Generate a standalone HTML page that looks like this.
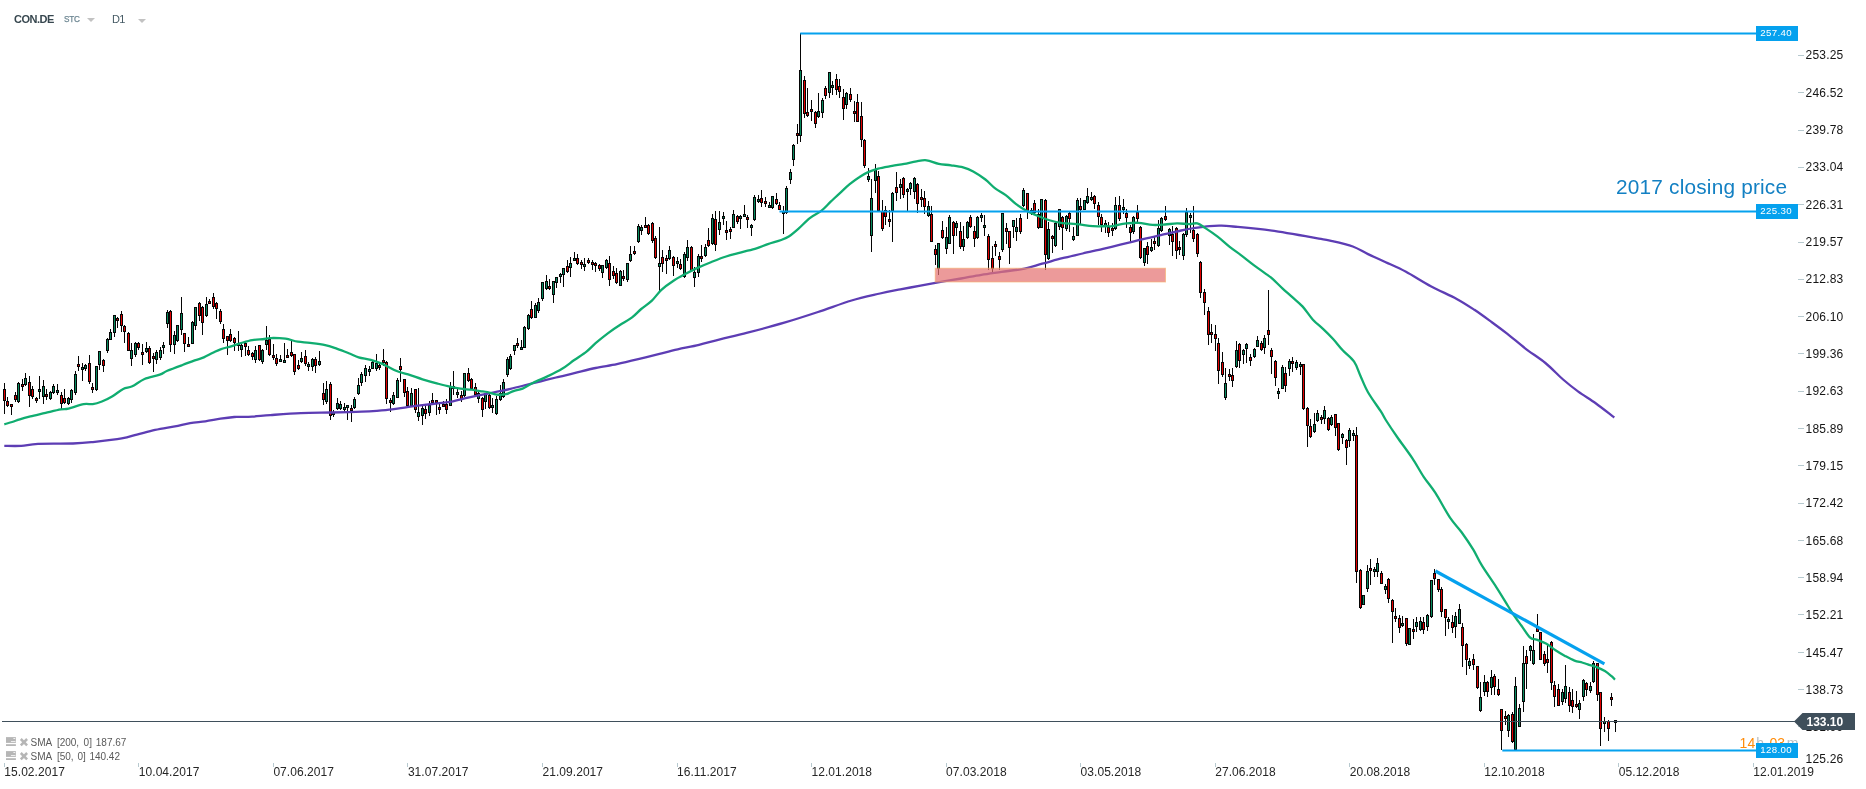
<!DOCTYPE html>
<html><head><meta charset="utf-8"><title>CON.DE D1</title>
<style>
*{margin:0;padding:0;box-sizing:border-box}
html,body{width:1866px;height:789px;background:#fff;overflow:hidden;font-family:"Liberation Sans",sans-serif}
#c{position:absolute;left:0;top:0;width:1866px;height:789px;overflow:hidden;background:transparent;will-change:transform}
svg{position:absolute;left:0;top:0}
.pl{position:absolute;left:1805.6px;font-size:12px;line-height:14px;color:#151515;white-space:nowrap;letter-spacing:0.2px}
.tk{position:absolute;left:1798px;width:6px;height:1px;background:#b7c9cf}
.dl{position:absolute;top:764.5px;font-size:12px;line-height:14px;color:#262626;white-space:nowrap;letter-spacing:0.05px}
.dt{position:absolute;top:763px;width:1px;height:4px;background:#b7c9cf}
.hl{position:absolute;height:2px;background:#0ea0ec}
.hb{position:absolute;left:1756px;width:42px;height:15px;background:#05a1ee;color:#fff;font-size:9.7px;line-height:13px;padding-left:4.3px;white-space:nowrap;letter-spacing:0.35px}
.sym{position:absolute;left:14px;top:12px;font-size:11px;line-height:14px;font-weight:bold;color:#37474f;letter-spacing:-0.5px}
.stc{position:absolute;left:64px;top:13.9px;-webkit-text-stroke:0.25px #6f8894;font-size:8.2px;line-height:12px;color:#6f8894;letter-spacing:-0.25px}
.d1{position:absolute;left:112px;top:12px;font-size:11px;line-height:14px;color:#455a64;letter-spacing:-0.8px}
.arr{position:absolute;width:0;height:0;border-left:4px solid transparent;border-right:4px solid transparent;border-top:4px solid #c2c2c2}
.leg{position:absolute;font-size:10px;line-height:12px;color:#5a5a5a;white-space:pre}
</style></head><body><div id="c">
<div class="sym">CON.DE</div><div class="stc">STC</div><div class="arr" style="left:87px;top:18px"></div>
<div class="d1">D1</div><div class="arr" style="left:138px;top:19px"></div>

<svg width="1866" height="789" viewBox="0 0 1866 789" shape-rendering="auto">
<path d="M4.5 383V414M7.5 397V407M11.5 404V415M15.5 392V402M18.5 382V403M22.5 379V391M25.5 373V386M29.5 376V407M32.5 386V399M36.5 397V403M39.5 376V399M43.5 380V404M46.5 389V400M50.5 391V400M53.5 384V394M57.5 384V395M61.5 392V409M64.5 389V404M68.5 397V405M71.5 389V403M75.5 371V395M78.5 356V371M82.5 363V381M85.5 364V371M89.5 355V384M92.5 383V393M96.5 366V391M99.5 351V370M103.5 359V372M107.5 338V353M110.5 329V340M114.5 315V337M117.5 317V328M121.5 311V332M124.5 325V343M128.5 332V351M131.5 343V366M135.5 342V357M138.5 342V350M142.5 344V365M146.5 342V353M149.5 346V364M153.5 353V372M156.5 350V364M160.5 347V360M163.5 342V354M167.5 310V328M170.5 310V352M174.5 331V354M177.5 325V342M181.5 297V335M184.5 333V352M188.5 337V347M192.5 321V344M195.5 307V330M199.5 302V321M202.5 306V335M206.5 297V317M209.5 299V304M213.5 293V309M216.5 302V319M220.5 309V324M223.5 324V343M227.5 336V355M230.5 329V342M234.5 337V351M238.5 331V351M241.5 342V357M245.5 342V356M248.5 346V356M252.5 352V360M255.5 346V363M259.5 345V361M262.5 349V364M266.5 326V350M269.5 335V356M273.5 344V360M276.5 354V366M280.5 355V362M284.5 343V362M287.5 349V358M291.5 341V357M294.5 354V375M298.5 360V370M301.5 352V363M305.5 350V366M308.5 362V371M312.5 358V371M315.5 357V373M319.5 351V366M323.5 383V405M326.5 381V404M330.5 382V420M333.5 410V417M337.5 398V410M340.5 401V410M344.5 403V413M347.5 405V420M351.5 405V422M354.5 397V409M358.5 378V395M361.5 372V386M365.5 365V382M369.5 366V376M372.5 361V369M376.5 354V371M379.5 362V370M383.5 349V366M386.5 361V404M390.5 398V412M393.5 392V405M397.5 378V398M400.5 358V382M404.5 379V397M407.5 387V406M411.5 388V406M415.5 389V413M418.5 388V421M422.5 404V425M425.5 406V419M429.5 401V416M432.5 393V403M436.5 400V415M439.5 404V414M443.5 401V407M446.5 399V414M450.5 382V406M453.5 371V395M457.5 389V398M461.5 391V402M464.5 373V397M468.5 368V382M471.5 378V389M475.5 383V395M478.5 392V403M482.5 397V417M485.5 393V409M489.5 394V409M492.5 398V413M496.5 396V415M500.5 385V401M503.5 379V398M507.5 357V377M510.5 354V370M514.5 345V355M517.5 338V348M521.5 340V350M524.5 326V348M528.5 314V330M531.5 301V319M535.5 303V318M538.5 298V313M542.5 282V301M546.5 275V290M549.5 279V290M553.5 281V303M556.5 277V288M560.5 273V283M563.5 268V287M567.5 260V273M570.5 257V277M574.5 252V261M577.5 254V265M581.5 260V269M584.5 258V271M588.5 258V264M592.5 260V270M595.5 262V272M599.5 264V271M602.5 265V278M606.5 259V269M609.5 256V286M613.5 266V279M616.5 268V284M620.5 270V286M623.5 270V281M627.5 263V282M630.5 246V262M634.5 246V255M638.5 224V243M641.5 225V235M645.5 217V228M648.5 224V235M652.5 222V243M655.5 236V259M659.5 227V292M662.5 250V272M666.5 255V274M669.5 246V260M673.5 256V276M677.5 257V268M680.5 259V270M684.5 252V278M687.5 240V261M691.5 246V271M694.5 267V287M698.5 254V277M701.5 245V262M705.5 244V257M708.5 228V247M712.5 214V245M715.5 211V251M719.5 211V235M723.5 212V225M726.5 221V240M730.5 227V239M733.5 210V228M737.5 215V224M740.5 215V229M744.5 205V217M747.5 215V228M751.5 224V236M754.5 195V221M758.5 195V203M761.5 190V207M765.5 197V207M769.5 202V208M772.5 196V209M776.5 193V205M779.5 202V210M783.5 206V234M786.5 186V214M790.5 169V184M793.5 144V166M797.5 124V144M800.5 33V142M804.5 76V118M807.5 88V117M811.5 100V121M815.5 111V128M818.5 93V118M822.5 98V118M825.5 86V99M829.5 72V98M832.5 81V95M836.5 74V95M839.5 79V98M843.5 89V120M846.5 92V109M850.5 88V102M854.5 101V122M857.5 94V122M861.5 102V147M864.5 139V168M868.5 168V182M871.5 179V252M875.5 164V193M878.5 171V211M882.5 200V231M885.5 206V225M889.5 210V227M892.5 192V242M896.5 172V201M900.5 179V199M903.5 177V198M907.5 188V211M910.5 182V195M914.5 177V199M917.5 183V213M921.5 189V207M924.5 191V214M928.5 201V217M931.5 206V242M935.5 245V265M938.5 243V275M942.5 221V239M946.5 227V254M949.5 215V244M953.5 221V254M956.5 221V236M960.5 222V249M963.5 226V251M967.5 221V239M970.5 215V228M974.5 226V247M977.5 216V239M981.5 213V222M984.5 215V236M988.5 234V270M992.5 246V273M995.5 241V256M999.5 252V270M1002.5 213V252M1006.5 223V244M1009.5 231V264M1013.5 220V238M1016.5 218V241M1020.5 214V234M1023.5 188V207M1027.5 193V219M1031.5 208V215M1034.5 200V215M1038.5 209V229M1041.5 199V228M1045.5 199V270M1048.5 222V260M1052.5 235V253M1055.5 222V247M1059.5 209V230M1062.5 216V250M1066.5 215V231M1069.5 211V232M1073.5 227V241M1077.5 198V236M1080.5 198V225M1084.5 200V210M1087.5 188V204M1091.5 192V201M1094.5 195V209M1098.5 202V225M1101.5 214V232M1105.5 220V233M1108.5 222V237M1112.5 223V236M1115.5 197V230M1119.5 196V221M1123.5 199V214M1126.5 209V228M1130.5 225V242M1133.5 216V234M1137.5 205V222M1140.5 226V259M1144.5 248V266M1147.5 242V264M1151.5 239V252M1154.5 237V250M1158.5 220V247M1161.5 217V232M1165.5 206V221M1169.5 228V245M1172.5 226V256M1176.5 227V259M1179.5 241V255M1183.5 233V260M1186.5 208V237M1190.5 213V233M1193.5 206V242M1197.5 233V257M1200.5 261V298M1204.5 289V315M1208.5 307V345M1211.5 324V343M1215.5 325V351M1218.5 338V384M1222.5 352V377M1225.5 368V400M1229.5 369V381M1232.5 368V387M1236.5 341V368M1239.5 343V368M1243.5 349V364M1246.5 343V363M1250.5 354V366M1254.5 348V358M1257.5 336V347M1261.5 341V351M1264.5 335V354M1268.5 290V345M1271.5 348V374M1275.5 360V386M1278.5 388V399M1282.5 365V389M1285.5 367V392M1289.5 359V376M1292.5 357V372M1296.5 360V370M1300.5 362V375M1303.5 364V410M1307.5 407V447M1310.5 419V438M1314.5 413V433M1317.5 410V422M1321.5 415V424M1324.5 406V424M1328.5 417V431M1331.5 415V426M1335.5 414V436M1338.5 423V451M1342.5 433V444M1346.5 439V465M1349.5 428V447M1353.5 430V441M1356.5 427V583M1360.5 569V609M1363.5 595V605M1367.5 565V592M1370.5 559V585M1374.5 567V577M1377.5 558V577M1381.5 571V584M1385.5 584V594M1388.5 578V603M1392.5 599V643M1395.5 608V622M1399.5 615V633M1402.5 616V627M1406.5 618V646M1409.5 628V645M1413.5 619V639M1416.5 617V632M1420.5 617V631M1423.5 617V634M1427.5 614V631M1431.5 580V618M1434.5 569V585M1438.5 579V592M1441.5 587V617M1445.5 609V636M1448.5 617V629M1452.5 615V633M1455.5 612V638M1459.5 604V624M1462.5 623V667M1466.5 643V675M1469.5 658V669M1473.5 654V670M1477.5 666V689M1480.5 682V712M1484.5 675V696M1487.5 681V697M1491.5 670V695M1494.5 674V695M1498.5 679V696M1501.5 709V750M1505.5 711V725M1508.5 714V737M1512.5 712V743M1515.5 677V750M1519.5 704V727M1523.5 646V712M1526.5 650V689M1530.5 645V661M1533.5 634V665M1537.5 614V632M1540.5 632V660M1544.5 651V666M1547.5 645V673M1551.5 641V690M1554.5 681V707M1558.5 684V706M1562.5 689V705M1565.5 665V703M1569.5 687V712M1572.5 689V713M1576.5 691V708M1579.5 700V719M1583.5 679V701M1586.5 682V696M1590.5 682V693M1593.5 661V683M1597.5 663V701M1600.5 692V746M1604.5 717V732M1608.5 720V741M1611.5 693V706M1615.5 720V732" stroke="#050505" stroke-width="1" fill="none" shape-rendering="crispEdges"/>
<g stroke="#050505" stroke-width="1"><rect x="3.5" y="389.5" width="2" height="11" fill="#e20000"/><rect x="6.5" y="401.5" width="2" height="4" fill="#e20000"/><rect x="10.5" y="404.5" width="2" height="2" fill="#e20000"/><rect x="14.5" y="395.5" width="2" height="4" fill="#e20000"/><rect x="17.5" y="383.5" width="2" height="18" fill="#078a5e"/><rect x="21.5" y="384.5" width="2" height="2" fill="#e20000"/><rect x="24.5" y="378.5" width="2" height="6" fill="#078a5e"/><rect x="28.5" y="382.5" width="2" height="13" fill="#e20000"/><rect x="31.5" y="389.5" width="2" height="7" fill="#e20000"/><rect x="35.5" y="398.5" width="2" height="2" fill="#e20000"/><rect x="38.5" y="389.5" width="2" height="2" fill="#078a5e"/><rect x="42.5" y="386.5" width="2" height="10" fill="#078a5e"/><rect x="45.5" y="394.5" width="2" height="2" fill="#e20000"/><rect x="49.5" y="392.5" width="2" height="6" fill="#078a5e"/><rect x="52.5" y="386.5" width="2" height="6" fill="#078a5e"/><rect x="56.5" y="390.5" width="2" height="2" fill="#078a5e"/><rect x="60.5" y="395.5" width="2" height="8" fill="#e20000"/><rect x="63.5" y="398.5" width="2" height="4" fill="#e20000"/><rect x="67.5" y="398.5" width="2" height="5" fill="#078a5e"/><rect x="70.5" y="390.5" width="2" height="9" fill="#078a5e"/><rect x="74.5" y="374.5" width="2" height="18" fill="#078a5e"/><rect x="77.5" y="364.5" width="2" height="2" fill="#e20000"/><rect x="81.5" y="367.5" width="2" height="2" fill="#078a5e"/><rect x="84.5" y="365.5" width="2" height="3" fill="#078a5e"/><rect x="88.5" y="363.5" width="2" height="18" fill="#e20000"/><rect x="91.5" y="387.5" width="2" height="2" fill="#e20000"/><rect x="95.5" y="366.5" width="2" height="23" fill="#078a5e"/><rect x="98.5" y="351.5" width="2" height="13" fill="#078a5e"/><rect x="102.5" y="360.5" width="2" height="5" fill="#e20000"/><rect x="106.5" y="339.5" width="2" height="11" fill="#078a5e"/><rect x="109.5" y="332.5" width="2" height="7" fill="#078a5e"/><rect x="113.5" y="315.5" width="2" height="17" fill="#078a5e"/><rect x="116.5" y="318.5" width="2" height="2" fill="#e20000"/><rect x="120.5" y="314.5" width="2" height="11" fill="#e20000"/><rect x="123.5" y="326.5" width="2" height="5" fill="#e20000"/><rect x="127.5" y="333.5" width="2" height="17" fill="#e20000"/><rect x="130.5" y="350.5" width="2" height="8" fill="#078a5e"/><rect x="134.5" y="343.5" width="2" height="11" fill="#078a5e"/><rect x="137.5" y="343.5" width="2" height="4" fill="#e20000"/><rect x="141.5" y="352.5" width="2" height="2" fill="#e20000"/><rect x="145.5" y="348.5" width="2" height="3" fill="#078a5e"/><rect x="148.5" y="348.5" width="2" height="14" fill="#e20000"/><rect x="152.5" y="356.5" width="2" height="2" fill="#e20000"/><rect x="155.5" y="352.5" width="2" height="7" fill="#078a5e"/><rect x="159.5" y="350.5" width="2" height="7" fill="#078a5e"/><rect x="162.5" y="345.5" width="2" height="2" fill="#078a5e"/><rect x="166.5" y="312.5" width="2" height="11" fill="#078a5e"/><rect x="169.5" y="311.5" width="2" height="33" fill="#e20000"/><rect x="173.5" y="335.5" width="2" height="9" fill="#078a5e"/><rect x="176.5" y="325.5" width="2" height="15" fill="#078a5e"/><rect x="180.5" y="313.5" width="2" height="16" fill="#078a5e"/><rect x="183.5" y="333.5" width="2" height="10" fill="#e20000"/><rect x="187.5" y="344.5" width="2" height="2" fill="#e20000"/><rect x="191.5" y="322.5" width="2" height="21" fill="#078a5e"/><rect x="194.5" y="307.5" width="2" height="18" fill="#078a5e"/><rect x="198.5" y="303.5" width="2" height="12" fill="#e20000"/><rect x="201.5" y="307.5" width="2" height="15" fill="#e20000"/><rect x="205.5" y="304.5" width="2" height="11" fill="#078a5e"/><rect x="208.5" y="301.5" width="2" height="2" fill="#e20000"/><rect x="212.5" y="297.5" width="2" height="9" fill="#e20000"/><rect x="215.5" y="303.5" width="2" height="5" fill="#e20000"/><rect x="219.5" y="311.5" width="2" height="10" fill="#e20000"/><rect x="222.5" y="329.5" width="2" height="9" fill="#e20000"/><rect x="226.5" y="336.5" width="2" height="4" fill="#e20000"/><rect x="229.5" y="334.5" width="2" height="6" fill="#e20000"/><rect x="233.5" y="338.5" width="2" height="4" fill="#e20000"/><rect x="237.5" y="343.5" width="2" height="2" fill="#078a5e"/><rect x="240.5" y="345.5" width="2" height="4" fill="#078a5e"/><rect x="244.5" y="343.5" width="2" height="3" fill="#e20000"/><rect x="247.5" y="350.5" width="2" height="4" fill="#e20000"/><rect x="251.5" y="353.5" width="2" height="3" fill="#e20000"/><rect x="254.5" y="350.5" width="2" height="9" fill="#078a5e"/><rect x="258.5" y="345.5" width="2" height="14" fill="#e20000"/><rect x="261.5" y="350.5" width="2" height="11" fill="#078a5e"/><rect x="265.5" y="340.5" width="2" height="4" fill="#078a5e"/><rect x="268.5" y="339.5" width="2" height="15" fill="#e20000"/><rect x="272.5" y="355.5" width="2" height="2" fill="#e20000"/><rect x="275.5" y="358.5" width="2" height="5" fill="#e20000"/><rect x="279.5" y="359.5" width="2" height="2" fill="#078a5e"/><rect x="283.5" y="360.5" width="2" height="2" fill="#078a5e"/><rect x="286.5" y="355.5" width="2" height="2" fill="#e20000"/><rect x="290.5" y="352.5" width="2" height="3" fill="#e20000"/><rect x="293.5" y="354.5" width="2" height="17" fill="#e20000"/><rect x="297.5" y="365.5" width="2" height="3" fill="#e20000"/><rect x="300.5" y="358.5" width="2" height="3" fill="#078a5e"/><rect x="304.5" y="356.5" width="2" height="7" fill="#e20000"/><rect x="307.5" y="364.5" width="2" height="2" fill="#078a5e"/><rect x="311.5" y="359.5" width="2" height="7" fill="#078a5e"/><rect x="314.5" y="359.5" width="2" height="6" fill="#e20000"/><rect x="318.5" y="361.5" width="2" height="3" fill="#078a5e"/><rect x="322.5" y="393.5" width="2" height="6" fill="#e20000"/><rect x="325.5" y="389.5" width="2" height="12" fill="#078a5e"/><rect x="329.5" y="384.5" width="2" height="31" fill="#e20000"/><rect x="332.5" y="412.5" width="2" height="2" fill="#078a5e"/><rect x="336.5" y="403.5" width="2" height="5" fill="#078a5e"/><rect x="339.5" y="404.5" width="2" height="4" fill="#078a5e"/><rect x="343.5" y="407.5" width="2" height="2" fill="#078a5e"/><rect x="346.5" y="405.5" width="2" height="2" fill="#078a5e"/><rect x="350.5" y="408.5" width="2" height="2" fill="#e20000"/><rect x="353.5" y="399.5" width="2" height="8" fill="#078a5e"/><rect x="357.5" y="385.5" width="2" height="8" fill="#078a5e"/><rect x="360.5" y="374.5" width="2" height="8" fill="#078a5e"/><rect x="364.5" y="368.5" width="2" height="7" fill="#078a5e"/><rect x="368.5" y="369.5" width="2" height="2" fill="#078a5e"/><rect x="371.5" y="362.5" width="2" height="6" fill="#078a5e"/><rect x="375.5" y="363.5" width="2" height="5" fill="#078a5e"/><rect x="378.5" y="365.5" width="2" height="2" fill="#e20000"/><rect x="382.5" y="360.5" width="2" height="2" fill="#e20000"/><rect x="385.5" y="362.5" width="2" height="36" fill="#e20000"/><rect x="389.5" y="400.5" width="2" height="2" fill="#e20000"/><rect x="392.5" y="395.5" width="2" height="8" fill="#078a5e"/><rect x="396.5" y="380.5" width="2" height="17" fill="#078a5e"/><rect x="399.5" y="366.5" width="2" height="3" fill="#e20000"/><rect x="403.5" y="379.5" width="2" height="13" fill="#e20000"/><rect x="406.5" y="391.5" width="2" height="14" fill="#e20000"/><rect x="410.5" y="393.5" width="2" height="12" fill="#078a5e"/><rect x="414.5" y="389.5" width="2" height="20" fill="#e20000"/><rect x="417.5" y="412.5" width="2" height="4" fill="#078a5e"/><rect x="421.5" y="408.5" width="2" height="7" fill="#078a5e"/><rect x="424.5" y="409.5" width="2" height="4" fill="#e20000"/><rect x="428.5" y="405.5" width="2" height="7" fill="#078a5e"/><rect x="431.5" y="400.5" width="2" height="2" fill="#e20000"/><rect x="435.5" y="400.5" width="2" height="2" fill="#e20000"/><rect x="438.5" y="407.5" width="2" height="2" fill="#e20000"/><rect x="442.5" y="404.5" width="2" height="2" fill="#e20000"/><rect x="445.5" y="404.5" width="2" height="5" fill="#e20000"/><rect x="449.5" y="386.5" width="2" height="19" fill="#078a5e"/><rect x="452.5" y="386.5" width="2" height="2" fill="#078a5e"/><rect x="456.5" y="392.5" width="2" height="2" fill="#078a5e"/><rect x="460.5" y="395.5" width="2" height="3" fill="#e20000"/><rect x="463.5" y="373.5" width="2" height="22" fill="#078a5e"/><rect x="467.5" y="373.5" width="2" height="7" fill="#e20000"/><rect x="470.5" y="379.5" width="2" height="9" fill="#e20000"/><rect x="474.5" y="387.5" width="2" height="7" fill="#e20000"/><rect x="477.5" y="393.5" width="2" height="5" fill="#078a5e"/><rect x="481.5" y="398.5" width="2" height="11" fill="#e20000"/><rect x="484.5" y="393.5" width="2" height="8" fill="#078a5e"/><rect x="488.5" y="395.5" width="2" height="12" fill="#e20000"/><rect x="491.5" y="405.5" width="2" height="2" fill="#078a5e"/><rect x="495.5" y="399.5" width="2" height="14" fill="#078a5e"/><rect x="499.5" y="393.5" width="2" height="6" fill="#078a5e"/><rect x="502.5" y="382.5" width="2" height="14" fill="#078a5e"/><rect x="506.5" y="359.5" width="2" height="15" fill="#078a5e"/><rect x="509.5" y="356.5" width="2" height="12" fill="#078a5e"/><rect x="513.5" y="345.5" width="2" height="5" fill="#078a5e"/><rect x="516.5" y="343.5" width="2" height="2" fill="#e20000"/><rect x="520.5" y="347.5" width="2" height="2" fill="#078a5e"/><rect x="523.5" y="327.5" width="2" height="20" fill="#078a5e"/><rect x="527.5" y="315.5" width="2" height="13" fill="#078a5e"/><rect x="530.5" y="309.5" width="2" height="8" fill="#e20000"/><rect x="534.5" y="305.5" width="2" height="12" fill="#078a5e"/><rect x="537.5" y="302.5" width="2" height="8" fill="#078a5e"/><rect x="541.5" y="282.5" width="2" height="16" fill="#078a5e"/><rect x="545.5" y="281.5" width="2" height="7" fill="#078a5e"/><rect x="548.5" y="286.5" width="2" height="2" fill="#e20000"/><rect x="552.5" y="281.5" width="2" height="13" fill="#078a5e"/><rect x="555.5" y="277.5" width="2" height="5" fill="#078a5e"/><rect x="559.5" y="274.5" width="2" height="2" fill="#078a5e"/><rect x="562.5" y="268.5" width="2" height="6" fill="#078a5e"/><rect x="566.5" y="266.5" width="2" height="5" fill="#e20000"/><rect x="569.5" y="263.5" width="2" height="4" fill="#078a5e"/><rect x="573.5" y="258.5" width="2" height="2" fill="#078a5e"/><rect x="576.5" y="258.5" width="2" height="5" fill="#e20000"/><rect x="580.5" y="262.5" width="2" height="2" fill="#e20000"/><rect x="583.5" y="264.5" width="2" height="2" fill="#078a5e"/><rect x="587.5" y="260.5" width="2" height="2" fill="#e20000"/><rect x="591.5" y="262.5" width="2" height="2" fill="#e20000"/><rect x="594.5" y="263.5" width="2" height="2" fill="#e20000"/><rect x="598.5" y="265.5" width="2" height="3" fill="#e20000"/><rect x="601.5" y="265.5" width="2" height="7" fill="#078a5e"/><rect x="605.5" y="260.5" width="2" height="7" fill="#078a5e"/><rect x="608.5" y="263.5" width="2" height="16" fill="#e20000"/><rect x="612.5" y="271.5" width="2" height="4" fill="#e20000"/><rect x="615.5" y="273.5" width="2" height="9" fill="#e20000"/><rect x="619.5" y="271.5" width="2" height="14" fill="#078a5e"/><rect x="622.5" y="276.5" width="2" height="2" fill="#e20000"/><rect x="626.5" y="263.5" width="2" height="16" fill="#078a5e"/><rect x="629.5" y="254.5" width="2" height="6" fill="#078a5e"/><rect x="633.5" y="251.5" width="2" height="2" fill="#e20000"/><rect x="637.5" y="226.5" width="2" height="15" fill="#078a5e"/><rect x="640.5" y="227.5" width="2" height="3" fill="#078a5e"/><rect x="644.5" y="225.5" width="2" height="2" fill="#e20000"/><rect x="647.5" y="225.5" width="2" height="8" fill="#e20000"/><rect x="651.5" y="223.5" width="2" height="17" fill="#e20000"/><rect x="654.5" y="238.5" width="2" height="19" fill="#e20000"/><rect x="658.5" y="263.5" width="2" height="3" fill="#078a5e"/><rect x="661.5" y="257.5" width="2" height="6" fill="#e20000"/><rect x="665.5" y="258.5" width="2" height="2" fill="#e20000"/><rect x="668.5" y="250.5" width="2" height="8" fill="#078a5e"/><rect x="672.5" y="257.5" width="2" height="8" fill="#e20000"/><rect x="676.5" y="261.5" width="2" height="2" fill="#078a5e"/><rect x="679.5" y="264.5" width="2" height="4" fill="#e20000"/><rect x="683.5" y="254.5" width="2" height="22" fill="#078a5e"/><rect x="686.5" y="247.5" width="2" height="10" fill="#078a5e"/><rect x="690.5" y="247.5" width="2" height="23" fill="#e20000"/><rect x="693.5" y="272.5" width="2" height="5" fill="#078a5e"/><rect x="697.5" y="256.5" width="2" height="16" fill="#078a5e"/><rect x="700.5" y="256.5" width="2" height="2" fill="#e20000"/><rect x="704.5" y="247.5" width="2" height="8" fill="#078a5e"/><rect x="707.5" y="240.5" width="2" height="5" fill="#e20000"/><rect x="711.5" y="218.5" width="2" height="25" fill="#078a5e"/><rect x="714.5" y="219.5" width="2" height="25" fill="#e20000"/><rect x="718.5" y="222.5" width="2" height="7" fill="#078a5e"/><rect x="722.5" y="216.5" width="2" height="2" fill="#078a5e"/><rect x="725.5" y="230.5" width="2" height="2" fill="#e20000"/><rect x="729.5" y="229.5" width="2" height="2" fill="#e20000"/><rect x="732.5" y="214.5" width="2" height="13" fill="#078a5e"/><rect x="736.5" y="216.5" width="2" height="5" fill="#e20000"/><rect x="739.5" y="216.5" width="2" height="2" fill="#078a5e"/><rect x="743.5" y="214.5" width="2" height="2" fill="#078a5e"/><rect x="746.5" y="217.5" width="2" height="2" fill="#e20000"/><rect x="750.5" y="225.5" width="2" height="2" fill="#078a5e"/><rect x="753.5" y="197.5" width="2" height="22" fill="#078a5e"/><rect x="757.5" y="199.5" width="2" height="2" fill="#078a5e"/><rect x="760.5" y="198.5" width="2" height="4" fill="#e20000"/><rect x="764.5" y="201.5" width="2" height="2" fill="#e20000"/><rect x="768.5" y="205.5" width="2" height="2" fill="#078a5e"/><rect x="771.5" y="196.5" width="2" height="11" fill="#078a5e"/><rect x="775.5" y="199.5" width="2" height="4" fill="#e20000"/><rect x="778.5" y="205.5" width="2" height="4" fill="#e20000"/><rect x="782.5" y="211.5" width="2" height="2" fill="#078a5e"/><rect x="785.5" y="188.5" width="2" height="24" fill="#078a5e"/><rect x="789.5" y="172.5" width="2" height="7" fill="#078a5e"/><rect x="792.5" y="145.5" width="2" height="14" fill="#078a5e"/><rect x="796.5" y="133.5" width="2" height="2" fill="#e20000"/><rect x="799.5" y="70.5" width="2" height="65" fill="#078a5e"/><rect x="803.5" y="80.5" width="2" height="33" fill="#e20000"/><rect x="806.5" y="112.5" width="2" height="3" fill="#e20000"/><rect x="810.5" y="109.5" width="2" height="2" fill="#e20000"/><rect x="814.5" y="112.5" width="2" height="11" fill="#e20000"/><rect x="817.5" y="111.5" width="2" height="5" fill="#078a5e"/><rect x="821.5" y="100.5" width="2" height="12" fill="#078a5e"/><rect x="824.5" y="88.5" width="2" height="7" fill="#e20000"/><rect x="828.5" y="72.5" width="2" height="20" fill="#078a5e"/><rect x="831.5" y="85.5" width="2" height="2" fill="#078a5e"/><rect x="835.5" y="79.5" width="2" height="10" fill="#e20000"/><rect x="838.5" y="86.5" width="2" height="5" fill="#e20000"/><rect x="842.5" y="97.5" width="2" height="11" fill="#e20000"/><rect x="845.5" y="93.5" width="2" height="11" fill="#078a5e"/><rect x="849.5" y="94.5" width="2" height="5" fill="#e20000"/><rect x="853.5" y="111.5" width="2" height="2" fill="#e20000"/><rect x="856.5" y="102.5" width="2" height="19" fill="#e20000"/><rect x="860.5" y="116.5" width="2" height="23" fill="#e20000"/><rect x="863.5" y="140.5" width="2" height="25" fill="#e20000"/><rect x="867.5" y="176.5" width="2" height="3" fill="#078a5e"/><rect x="870.5" y="198.5" width="2" height="37" fill="#078a5e"/><rect x="874.5" y="170.5" width="2" height="10" fill="#078a5e"/><rect x="877.5" y="176.5" width="2" height="34" fill="#e20000"/><rect x="881.5" y="211.5" width="2" height="17" fill="#e20000"/><rect x="884.5" y="210.5" width="2" height="6" fill="#e20000"/><rect x="888.5" y="219.5" width="2" height="2" fill="#e20000"/><rect x="891.5" y="193.5" width="2" height="17" fill="#078a5e"/><rect x="895.5" y="187.5" width="2" height="5" fill="#e20000"/><rect x="899.5" y="184.5" width="2" height="3" fill="#078a5e"/><rect x="902.5" y="178.5" width="2" height="16" fill="#e20000"/><rect x="906.5" y="189.5" width="2" height="2" fill="#078a5e"/><rect x="909.5" y="183.5" width="2" height="5" fill="#078a5e"/><rect x="913.5" y="178.5" width="2" height="13" fill="#078a5e"/><rect x="916.5" y="184.5" width="2" height="19" fill="#e20000"/><rect x="920.5" y="197.5" width="2" height="2" fill="#e20000"/><rect x="923.5" y="198.5" width="2" height="8" fill="#e20000"/><rect x="927.5" y="206.5" width="2" height="9" fill="#078a5e"/><rect x="930.5" y="214.5" width="2" height="27" fill="#e20000"/><rect x="934.5" y="249.5" width="2" height="5" fill="#e20000"/><rect x="937.5" y="243.5" width="2" height="25" fill="#078a5e"/><rect x="941.5" y="230.5" width="2" height="7" fill="#e20000"/><rect x="945.5" y="237.5" width="2" height="11" fill="#078a5e"/><rect x="948.5" y="217.5" width="2" height="26" fill="#078a5e"/><rect x="952.5" y="222.5" width="2" height="13" fill="#e20000"/><rect x="955.5" y="223.5" width="2" height="4" fill="#078a5e"/><rect x="959.5" y="231.5" width="2" height="15" fill="#e20000"/><rect x="962.5" y="239.5" width="2" height="7" fill="#078a5e"/><rect x="966.5" y="222.5" width="2" height="15" fill="#078a5e"/><rect x="969.5" y="217.5" width="2" height="9" fill="#e20000"/><rect x="973.5" y="231.5" width="2" height="7" fill="#e20000"/><rect x="976.5" y="217.5" width="2" height="20" fill="#078a5e"/><rect x="980.5" y="215.5" width="2" height="2" fill="#078a5e"/><rect x="983.5" y="225.5" width="2" height="2" fill="#078a5e"/><rect x="987.5" y="236.5" width="2" height="23" fill="#e20000"/><rect x="991.5" y="258.5" width="2" height="10" fill="#e20000"/><rect x="994.5" y="244.5" width="2" height="2" fill="#e20000"/><rect x="998.5" y="256.5" width="2" height="3" fill="#e20000"/><rect x="1001.5" y="213.5" width="2" height="36" fill="#078a5e"/><rect x="1005.5" y="228.5" width="2" height="3" fill="#e20000"/><rect x="1008.5" y="231.5" width="2" height="16" fill="#e20000"/><rect x="1012.5" y="220.5" width="2" height="6" fill="#078a5e"/><rect x="1015.5" y="227.5" width="2" height="4" fill="#078a5e"/><rect x="1019.5" y="218.5" width="2" height="13" fill="#e20000"/><rect x="1022.5" y="190.5" width="2" height="15" fill="#078a5e"/><rect x="1026.5" y="193.5" width="2" height="18" fill="#e20000"/><rect x="1030.5" y="210.5" width="2" height="2" fill="#078a5e"/><rect x="1033.5" y="203.5" width="2" height="9" fill="#e20000"/><rect x="1037.5" y="214.5" width="2" height="13" fill="#e20000"/><rect x="1040.5" y="199.5" width="2" height="28" fill="#078a5e"/><rect x="1044.5" y="200.5" width="2" height="54" fill="#e20000"/><rect x="1047.5" y="229.5" width="2" height="29" fill="#078a5e"/><rect x="1051.5" y="236.5" width="2" height="2" fill="#e20000"/><rect x="1054.5" y="223.5" width="2" height="22" fill="#078a5e"/><rect x="1058.5" y="209.5" width="2" height="17" fill="#078a5e"/><rect x="1061.5" y="217.5" width="2" height="10" fill="#e20000"/><rect x="1065.5" y="216.5" width="2" height="12" fill="#078a5e"/><rect x="1068.5" y="213.5" width="2" height="5" fill="#e20000"/><rect x="1072.5" y="236.5" width="2" height="3" fill="#078a5e"/><rect x="1076.5" y="200.5" width="2" height="35" fill="#078a5e"/><rect x="1079.5" y="206.5" width="2" height="3" fill="#e20000"/><rect x="1083.5" y="200.5" width="2" height="9" fill="#078a5e"/><rect x="1086.5" y="196.5" width="2" height="6" fill="#078a5e"/><rect x="1090.5" y="197.5" width="2" height="2" fill="#078a5e"/><rect x="1093.5" y="196.5" width="2" height="7" fill="#e20000"/><rect x="1097.5" y="205.5" width="2" height="11" fill="#e20000"/><rect x="1100.5" y="217.5" width="2" height="7" fill="#e20000"/><rect x="1104.5" y="223.5" width="2" height="2" fill="#078a5e"/><rect x="1107.5" y="227.5" width="2" height="5" fill="#e20000"/><rect x="1111.5" y="228.5" width="2" height="2" fill="#e20000"/><rect x="1114.5" y="205.5" width="2" height="23" fill="#078a5e"/><rect x="1118.5" y="205.5" width="2" height="13" fill="#e20000"/><rect x="1122.5" y="207.5" width="2" height="2" fill="#078a5e"/><rect x="1125.5" y="213.5" width="2" height="4" fill="#e20000"/><rect x="1129.5" y="227.5" width="2" height="5" fill="#e20000"/><rect x="1132.5" y="217.5" width="2" height="14" fill="#078a5e"/><rect x="1136.5" y="212.5" width="2" height="6" fill="#e20000"/><rect x="1139.5" y="227.5" width="2" height="30" fill="#e20000"/><rect x="1143.5" y="248.5" width="2" height="14" fill="#078a5e"/><rect x="1146.5" y="246.5" width="2" height="8" fill="#e20000"/><rect x="1150.5" y="247.5" width="2" height="3" fill="#078a5e"/><rect x="1153.5" y="241.5" width="2" height="2" fill="#e20000"/><rect x="1157.5" y="228.5" width="2" height="17" fill="#078a5e"/><rect x="1160.5" y="218.5" width="2" height="12" fill="#078a5e"/><rect x="1164.5" y="216.5" width="2" height="3" fill="#e20000"/><rect x="1168.5" y="229.5" width="2" height="6" fill="#078a5e"/><rect x="1171.5" y="234.5" width="2" height="7" fill="#e20000"/><rect x="1175.5" y="228.5" width="2" height="22" fill="#e20000"/><rect x="1178.5" y="247.5" width="2" height="2" fill="#e20000"/><rect x="1182.5" y="234.5" width="2" height="21" fill="#078a5e"/><rect x="1185.5" y="212.5" width="2" height="22" fill="#078a5e"/><rect x="1189.5" y="215.5" width="2" height="2" fill="#078a5e"/><rect x="1192.5" y="230.5" width="2" height="8" fill="#e20000"/><rect x="1196.5" y="234.5" width="2" height="19" fill="#e20000"/><rect x="1199.5" y="262.5" width="2" height="30" fill="#e20000"/><rect x="1203.5" y="292.5" width="2" height="10" fill="#e20000"/><rect x="1207.5" y="311.5" width="2" height="23" fill="#e20000"/><rect x="1210.5" y="332.5" width="2" height="2" fill="#e20000"/><rect x="1214.5" y="334.5" width="2" height="4" fill="#e20000"/><rect x="1217.5" y="343.5" width="2" height="27" fill="#e20000"/><rect x="1221.5" y="362.5" width="2" height="12" fill="#e20000"/><rect x="1224.5" y="383.5" width="2" height="14" fill="#078a5e"/><rect x="1228.5" y="374.5" width="2" height="2" fill="#e20000"/><rect x="1231.5" y="375.5" width="2" height="5" fill="#e20000"/><rect x="1235.5" y="350.5" width="2" height="16" fill="#078a5e"/><rect x="1238.5" y="344.5" width="2" height="16" fill="#e20000"/><rect x="1242.5" y="350.5" width="2" height="4" fill="#078a5e"/><rect x="1245.5" y="344.5" width="2" height="4" fill="#078a5e"/><rect x="1249.5" y="357.5" width="2" height="3" fill="#e20000"/><rect x="1253.5" y="349.5" width="2" height="7" fill="#078a5e"/><rect x="1256.5" y="340.5" width="2" height="6" fill="#078a5e"/><rect x="1260.5" y="343.5" width="2" height="6" fill="#e20000"/><rect x="1263.5" y="338.5" width="2" height="9" fill="#078a5e"/><rect x="1267.5" y="330.5" width="2" height="4" fill="#e20000"/><rect x="1270.5" y="350.5" width="2" height="6" fill="#e20000"/><rect x="1274.5" y="361.5" width="2" height="16" fill="#e20000"/><rect x="1277.5" y="391.5" width="2" height="2" fill="#078a5e"/><rect x="1281.5" y="367.5" width="2" height="21" fill="#078a5e"/><rect x="1284.5" y="373.5" width="2" height="12" fill="#e20000"/><rect x="1288.5" y="361.5" width="2" height="7" fill="#078a5e"/><rect x="1291.5" y="361.5" width="2" height="2" fill="#e20000"/><rect x="1295.5" y="362.5" width="2" height="5" fill="#078a5e"/><rect x="1299.5" y="364.5" width="2" height="2" fill="#078a5e"/><rect x="1302.5" y="364.5" width="2" height="44" fill="#e20000"/><rect x="1306.5" y="408.5" width="2" height="17" fill="#e20000"/><rect x="1309.5" y="426.5" width="2" height="10" fill="#e20000"/><rect x="1313.5" y="424.5" width="2" height="7" fill="#078a5e"/><rect x="1316.5" y="413.5" width="2" height="7" fill="#078a5e"/><rect x="1320.5" y="417.5" width="2" height="2" fill="#e20000"/><rect x="1323.5" y="410.5" width="2" height="8" fill="#078a5e"/><rect x="1327.5" y="418.5" width="2" height="11" fill="#e20000"/><rect x="1330.5" y="417.5" width="2" height="7" fill="#078a5e"/><rect x="1334.5" y="414.5" width="2" height="13" fill="#e20000"/><rect x="1337.5" y="423.5" width="2" height="26" fill="#e20000"/><rect x="1341.5" y="434.5" width="2" height="3" fill="#078a5e"/><rect x="1345.5" y="440.5" width="2" height="7" fill="#e20000"/><rect x="1348.5" y="430.5" width="2" height="10" fill="#078a5e"/><rect x="1352.5" y="433.5" width="2" height="2" fill="#078a5e"/><rect x="1355.5" y="435.5" width="2" height="136" fill="#e20000"/><rect x="1359.5" y="570.5" width="2" height="37" fill="#e20000"/><rect x="1362.5" y="595.5" width="2" height="9" fill="#078a5e"/><rect x="1366.5" y="571.5" width="2" height="17" fill="#078a5e"/><rect x="1369.5" y="568.5" width="2" height="2" fill="#e20000"/><rect x="1373.5" y="569.5" width="2" height="2" fill="#078a5e"/><rect x="1376.5" y="563.5" width="2" height="8" fill="#078a5e"/><rect x="1380.5" y="573.5" width="2" height="10" fill="#e20000"/><rect x="1384.5" y="586.5" width="2" height="3" fill="#078a5e"/><rect x="1387.5" y="579.5" width="2" height="19" fill="#e20000"/><rect x="1391.5" y="600.5" width="2" height="11" fill="#e20000"/><rect x="1394.5" y="616.5" width="2" height="2" fill="#e20000"/><rect x="1398.5" y="618.5" width="2" height="9" fill="#e20000"/><rect x="1401.5" y="623.5" width="2" height="2" fill="#078a5e"/><rect x="1405.5" y="618.5" width="2" height="25" fill="#e20000"/><rect x="1408.5" y="628.5" width="2" height="16" fill="#078a5e"/><rect x="1412.5" y="629.5" width="2" height="2" fill="#e20000"/><rect x="1415.5" y="622.5" width="2" height="4" fill="#078a5e"/><rect x="1419.5" y="621.5" width="2" height="8" fill="#078a5e"/><rect x="1422.5" y="622.5" width="2" height="7" fill="#e20000"/><rect x="1426.5" y="615.5" width="2" height="11" fill="#078a5e"/><rect x="1430.5" y="580.5" width="2" height="36" fill="#078a5e"/><rect x="1433.5" y="573.5" width="2" height="5" fill="#e20000"/><rect x="1437.5" y="579.5" width="2" height="10" fill="#e20000"/><rect x="1440.5" y="589.5" width="2" height="22" fill="#e20000"/><rect x="1444.5" y="609.5" width="2" height="8" fill="#e20000"/><rect x="1447.5" y="619.5" width="2" height="2" fill="#078a5e"/><rect x="1451.5" y="622.5" width="2" height="5" fill="#e20000"/><rect x="1454.5" y="616.5" width="2" height="10" fill="#078a5e"/><rect x="1458.5" y="609.5" width="2" height="14" fill="#078a5e"/><rect x="1461.5" y="627.5" width="2" height="18" fill="#e20000"/><rect x="1465.5" y="644.5" width="2" height="15" fill="#e20000"/><rect x="1468.5" y="661.5" width="2" height="4" fill="#078a5e"/><rect x="1472.5" y="659.5" width="2" height="5" fill="#e20000"/><rect x="1476.5" y="666.5" width="2" height="21" fill="#e20000"/><rect x="1479.5" y="697.5" width="2" height="13" fill="#078a5e"/><rect x="1483.5" y="682.5" width="2" height="9" fill="#078a5e"/><rect x="1486.5" y="682.5" width="2" height="9" fill="#e20000"/><rect x="1490.5" y="677.5" width="2" height="10" fill="#078a5e"/><rect x="1493.5" y="676.5" width="2" height="10" fill="#e20000"/><rect x="1497.5" y="689.5" width="2" height="5" fill="#e20000"/><rect x="1500.5" y="709.5" width="2" height="21" fill="#e20000"/><rect x="1504.5" y="716.5" width="2" height="2" fill="#e20000"/><rect x="1507.5" y="715.5" width="2" height="15" fill="#078a5e"/><rect x="1511.5" y="714.5" width="2" height="27" fill="#e20000"/><rect x="1514.5" y="686.5" width="2" height="63" fill="#078a5e"/><rect x="1518.5" y="708.5" width="2" height="18" fill="#078a5e"/><rect x="1522.5" y="663.5" width="2" height="38" fill="#078a5e"/><rect x="1525.5" y="656.5" width="2" height="7" fill="#e20000"/><rect x="1529.5" y="646.5" width="2" height="4" fill="#078a5e"/><rect x="1532.5" y="650.5" width="2" height="13" fill="#078a5e"/><rect x="1536.5" y="627.5" width="2" height="4" fill="#e20000"/><rect x="1539.5" y="632.5" width="2" height="27" fill="#e20000"/><rect x="1543.5" y="654.5" width="2" height="9" fill="#e20000"/><rect x="1546.5" y="659.5" width="2" height="3" fill="#e20000"/><rect x="1550.5" y="642.5" width="2" height="40" fill="#e20000"/><rect x="1553.5" y="685.5" width="2" height="11" fill="#e20000"/><rect x="1557.5" y="689.5" width="2" height="16" fill="#e20000"/><rect x="1561.5" y="692.5" width="2" height="9" fill="#078a5e"/><rect x="1564.5" y="686.5" width="2" height="12" fill="#078a5e"/><rect x="1568.5" y="692.5" width="2" height="13" fill="#e20000"/><rect x="1571.5" y="700.5" width="2" height="6" fill="#e20000"/><rect x="1575.5" y="704.5" width="2" height="2" fill="#e20000"/><rect x="1578.5" y="703.5" width="2" height="6" fill="#078a5e"/><rect x="1582.5" y="680.5" width="2" height="16" fill="#078a5e"/><rect x="1585.5" y="683.5" width="2" height="6" fill="#e20000"/><rect x="1589.5" y="686.5" width="2" height="4" fill="#078a5e"/><rect x="1592.5" y="663.5" width="2" height="18" fill="#078a5e"/><rect x="1596.5" y="663.5" width="2" height="31" fill="#e20000"/><rect x="1599.5" y="692.5" width="2" height="36" fill="#e20000"/><rect x="1603.5" y="721.5" width="2" height="2" fill="#078a5e"/><rect x="1607.5" y="721.5" width="2" height="7" fill="#e20000"/><rect x="1610.5" y="697.5" width="2" height="2" fill="#e20000"/><rect x="1614.5" y="720.5" width="2" height="2" fill="#e20000"/></g>
<path d="M4.3 445.9C7.1 445.9 15.7 446.2 21.3 445.9C26.9 445.5 29.4 444.2 38.0 443.8C46.6 443.4 64.1 443.8 73.0 443.5C81.9 443.2 83.2 443.1 91.3 442.2C99.4 441.3 114.1 439.7 121.7 438.4C129.3 437.1 131.3 436.0 136.9 434.6C142.5 433.2 148.8 431.3 155.1 429.9C161.4 428.5 169.1 427.4 174.9 426.3C180.7 425.2 185.0 423.9 190.1 423.1C195.2 422.3 200.2 422.0 205.3 421.3C210.4 420.6 215.7 419.4 220.5 418.7C225.3 418.0 230.9 417.3 234.2 417.0C237.4 416.7 237.0 417.0 240.0 416.9C243.0 416.8 247.1 416.9 252.2 416.6C257.3 416.3 262.3 415.7 270.4 415.1C278.5 414.5 290.6 413.5 300.8 413.1C311.0 412.7 321.2 412.7 331.3 412.5C341.4 412.3 354.1 412.0 361.7 411.7C369.3 411.4 371.8 411.2 376.9 410.8C382.0 410.4 387.0 410.0 392.1 409.4C397.2 408.8 402.2 407.8 407.3 407.1C412.4 406.4 417.4 405.8 422.5 405.2C427.6 404.6 432.6 403.9 437.7 403.3C442.8 402.7 447.8 402.3 452.9 401.4C458.0 400.4 463.6 398.6 468.1 397.6C472.6 396.6 475.5 396.1 480.0 395.2C484.5 394.3 490.1 393.2 495.2 392.2C500.3 391.1 505.3 390.1 510.4 388.9C515.5 387.7 520.5 386.4 525.6 385.1C530.7 383.8 535.7 382.6 540.8 381.3C545.9 380.0 550.4 378.9 556.0 377.5C561.6 376.1 567.7 374.8 574.3 373.2C580.9 371.6 588.5 369.5 595.6 368.0C602.7 366.5 609.8 365.6 616.9 364.1C624.0 362.6 631.1 360.9 638.2 359.2C645.3 357.5 652.9 355.5 659.5 353.9C666.1 352.2 671.1 350.8 677.7 349.3C684.3 347.8 692.0 346.5 699.0 344.8C706.0 343.1 711.9 341.4 720.0 339.4C728.1 337.4 736.8 335.5 747.5 332.7C758.2 329.9 772.5 326.1 784.3 322.7C796.0 319.2 806.8 315.7 818.0 312.0C829.2 308.3 841.3 303.6 851.6 300.5C861.9 297.4 871.9 295.4 880.0 293.5C888.1 291.6 893.5 290.7 900.3 289.4C907.0 288.1 913.8 286.9 920.5 285.6C927.2 284.4 934.0 283.1 940.8 281.9C947.6 280.7 954.3 279.7 961.1 278.5C967.9 277.3 974.6 275.9 981.4 274.8C988.1 273.7 994.9 272.8 1001.6 271.8C1008.4 270.9 1015.1 270.5 1021.9 269.1C1028.7 267.8 1035.5 265.5 1042.2 263.7C1049.0 261.9 1055.7 259.9 1062.4 258.2C1069.2 256.5 1075.9 255.1 1082.7 253.5C1089.5 251.9 1096.7 250.4 1103.0 248.9C1109.3 247.4 1114.0 246.2 1120.3 244.7C1126.5 243.2 1133.8 241.3 1140.5 239.7C1147.2 238.1 1154.0 236.7 1160.8 235.2C1167.6 233.7 1175.3 231.7 1181.1 230.5C1186.8 229.3 1190.6 228.6 1195.3 227.9C1200.0 227.2 1205.1 226.5 1209.5 226.1C1213.9 225.7 1216.9 225.6 1221.6 225.7C1226.3 225.8 1231.7 226.4 1237.8 226.9C1243.9 227.4 1251.3 228.1 1258.1 228.9C1264.9 229.7 1271.6 230.6 1278.4 231.6C1285.2 232.6 1292.0 233.8 1298.7 235.0C1305.5 236.2 1313.7 237.8 1318.9 238.7C1324.1 239.6 1324.3 239.3 1330.0 240.6C1335.7 241.9 1346.5 244.2 1352.8 246.5C1359.1 248.8 1362.5 251.5 1368.0 254.1C1373.5 256.7 1379.4 259.2 1385.7 262.2C1392.0 265.1 1398.4 267.8 1406.0 271.8C1413.6 275.9 1422.8 282.0 1431.3 286.5C1439.8 291.0 1449.5 295.0 1456.7 298.9C1463.9 302.8 1468.5 305.9 1474.4 309.8C1480.3 313.7 1486.7 318.5 1492.2 322.5C1497.7 326.5 1501.9 329.6 1507.4 333.9C1512.9 338.2 1518.8 343.4 1525.1 348.3C1531.4 353.2 1539.1 357.8 1545.4 363.0C1551.7 368.2 1557.6 374.7 1563.1 379.5C1568.6 384.3 1572.8 387.6 1578.3 391.6C1583.8 395.6 1590.0 399.2 1596.0 403.5C1602.0 407.8 1611.2 415.2 1614.3 417.5" fill="none" stroke="#5d3db4" stroke-width="2.3" stroke-linejoin="round" stroke-linecap="butt"/>
<path d="M4.3 424.3C5.6 423.9 9.6 422.8 12.2 422.0C14.8 421.2 16.8 420.2 19.8 419.3C22.8 418.4 26.1 417.5 30.4 416.4C34.7 415.3 40.5 414.1 45.6 412.9C50.7 411.7 57.0 410.1 60.8 409.4C64.6 408.7 64.6 409.5 68.4 408.6C72.2 407.7 79.6 404.9 83.7 404.1C87.8 403.4 89.8 404.5 92.8 404.1C95.8 403.7 98.6 402.8 101.9 401.5C105.2 400.2 109.0 398.3 112.5 396.2C116.0 394.1 119.9 390.6 123.2 389.0C126.5 387.4 128.8 388.0 132.3 386.3C135.9 384.6 139.9 380.9 144.5 379.0C149.1 377.1 155.9 376.0 159.7 374.6C163.5 373.2 163.5 372.4 167.3 370.8C171.1 369.2 177.9 366.7 182.5 365.0C187.1 363.3 191.1 361.7 194.7 360.4C198.2 359.1 200.8 358.7 203.8 357.4C206.8 356.1 210.1 354.1 212.9 352.8C215.7 351.5 217.4 350.4 220.5 349.3C223.6 348.2 227.9 347.3 231.2 346.3C234.4 345.3 236.5 344.4 240.0 343.4C243.5 342.4 248.1 340.8 252.2 340.1C256.2 339.4 260.8 339.4 264.3 339.0C267.9 338.6 269.9 337.9 273.5 337.8C277.1 337.8 281.6 338.1 285.6 338.7C289.7 339.3 293.7 341.0 297.8 341.7C301.9 342.4 305.4 342.2 310.0 342.8C314.6 343.4 320.6 344.1 325.2 345.1C329.8 346.1 333.2 347.5 337.3 348.9C341.4 350.3 345.9 352.1 349.5 353.5C353.1 354.9 355.1 356.2 358.6 357.3C362.2 358.4 366.7 358.7 370.8 359.8C374.9 360.9 378.7 362.2 383.0 364.1C387.3 366.0 392.1 369.2 396.7 371.0C401.2 372.8 406.0 373.7 410.3 375.1C414.6 376.5 417.9 377.9 422.5 379.3C427.1 380.7 433.1 382.4 437.7 383.6C442.3 384.8 446.1 385.8 449.9 386.6C453.7 387.5 456.9 388.2 460.5 388.7C464.1 389.2 467.9 389.3 471.2 389.7C474.4 390.1 477.3 390.7 480.0 391.1C482.7 391.5 484.8 391.6 487.6 392.2C490.4 392.8 493.6 394.3 496.7 394.6C499.8 394.9 503.1 394.8 505.9 394.2C508.7 393.6 510.7 392.0 513.5 391.1C516.3 390.2 519.3 390.0 522.6 388.6C525.9 387.2 528.9 384.9 533.2 382.8C537.5 380.7 543.6 378.2 548.4 375.9C553.2 373.6 557.8 371.4 562.1 368.8C566.4 366.2 570.2 362.9 574.3 360.0C578.4 357.1 583.0 354.4 586.5 351.6C590.0 348.8 592.1 346.2 595.6 343.2C599.1 340.1 603.8 336.3 607.8 333.3C611.8 330.3 615.8 327.6 619.9 325.0C624.0 322.4 628.5 320.1 632.1 317.4C635.7 314.7 637.9 311.8 641.2 309.0C644.5 306.2 648.5 303.8 651.9 300.6C655.3 297.4 657.9 293.0 661.4 289.8C664.9 286.6 669.0 283.7 672.8 281.2C676.6 278.7 680.1 276.8 684.2 274.6C688.3 272.4 693.0 270.0 697.5 267.9C702.0 265.8 706.1 264.1 710.9 262.2C715.7 260.3 721.0 258.1 726.1 256.5C731.2 254.8 736.2 253.7 741.3 252.3C746.4 250.9 752.1 249.7 756.5 248.3C760.9 246.9 763.8 245.5 767.9 244.1C772.0 242.7 777.7 241.3 781.2 240.0C784.7 238.7 785.9 238.3 788.8 236.5C791.6 234.7 794.8 232.0 798.3 228.9C801.8 225.8 806.0 221.1 809.8 218.1C813.6 215.1 817.7 213.6 821.2 210.9C824.7 208.2 827.5 204.7 830.7 201.7C833.9 198.7 837.0 195.7 840.2 192.8C843.4 189.9 846.5 186.8 849.7 184.2C852.9 181.6 856.0 179.2 859.2 177.2C862.4 175.1 865.5 173.3 868.7 171.9C871.9 170.5 874.3 169.6 878.2 168.6C882.1 167.6 887.9 166.7 892.2 165.9C896.6 165.1 900.2 164.7 904.3 163.9C908.3 163.1 912.8 161.9 916.5 161.3C920.2 160.7 922.9 159.9 926.6 160.3C930.3 160.7 934.7 163.1 938.8 163.9C942.9 164.7 947.0 164.7 951.0 165.3C955.0 165.9 959.4 166.4 963.1 167.4C966.8 168.4 969.5 169.4 973.2 171.4C976.9 173.4 981.7 176.6 985.4 179.5C989.1 182.4 992.1 186.1 995.5 188.7C998.9 191.3 1002.3 192.6 1005.7 195.1C1009.1 197.6 1012.4 201.3 1015.8 203.9C1019.2 206.5 1022.3 208.5 1026.0 210.5C1029.7 212.5 1034.0 214.3 1038.1 216.0C1042.1 217.7 1046.2 219.3 1050.3 220.5C1054.3 221.7 1058.0 222.5 1062.4 223.1C1066.8 223.7 1071.5 223.6 1076.6 224.1C1081.7 224.6 1087.8 225.8 1092.9 226.2C1098.0 226.5 1103.8 226.2 1107.0 226.2C1110.2 226.2 1109.0 226.6 1112.2 226.1C1115.4 225.6 1122.0 223.9 1126.4 223.4C1130.8 222.9 1134.1 222.6 1138.5 222.8C1142.9 223.1 1148.3 224.6 1152.7 224.9C1157.1 225.2 1160.9 224.8 1164.9 224.5C1169.0 224.2 1173.0 223.5 1177.0 223.4C1181.0 223.3 1185.8 224.1 1189.2 224.1C1192.6 224.1 1194.6 222.7 1197.3 223.4C1200.0 224.1 1202.0 225.9 1205.4 228.1C1208.8 230.3 1213.5 233.5 1217.6 236.6C1221.6 239.7 1225.7 243.6 1229.7 246.8C1233.8 250.0 1237.8 252.8 1241.9 255.9C1246.0 259.0 1250.0 262.4 1254.1 265.4C1258.1 268.4 1263.2 271.9 1266.2 274.1C1269.2 276.3 1269.6 276.2 1272.3 278.6C1275.0 281.0 1279.0 285.2 1282.4 288.3C1285.8 291.4 1289.2 294.3 1292.6 297.4C1296.0 300.4 1299.3 302.9 1302.7 306.6C1306.1 310.3 1309.5 316.0 1312.9 319.7C1316.3 323.4 1319.6 325.7 1323.0 328.9C1326.4 332.1 1329.8 335.4 1333.1 339.0C1336.4 342.6 1339.2 346.5 1342.7 350.3C1346.2 354.1 1351.1 357.5 1354.1 361.7C1357.0 365.9 1358.1 370.6 1360.4 375.7C1362.7 380.8 1364.6 386.3 1368.0 392.2C1371.4 398.1 1377.7 406.6 1380.7 411.2C1383.7 415.8 1383.0 415.6 1385.8 420.0C1388.6 424.4 1393.1 431.2 1397.5 437.5C1401.9 443.8 1407.7 451.3 1412.1 457.9C1416.5 464.4 1419.8 471.0 1423.7 476.8C1427.6 482.6 1431.0 486.1 1435.4 492.9C1439.8 499.7 1445.6 511.1 1450.0 517.6C1454.4 524.2 1457.7 526.9 1461.6 532.2C1465.5 537.6 1469.9 544.1 1473.3 549.7C1476.7 555.3 1478.1 559.4 1482.0 565.7C1485.9 572.0 1492.2 580.8 1496.6 587.6C1501.0 594.4 1505.4 601.9 1508.3 606.5C1511.2 611.1 1511.5 611.8 1513.7 615.0C1515.9 618.2 1518.6 621.8 1521.3 625.5C1524.0 629.2 1527.4 634.9 1529.9 637.3C1532.4 639.7 1533.8 638.7 1536.5 639.7C1539.2 640.7 1542.8 641.8 1546.0 643.5C1549.2 645.2 1552.3 648.1 1555.5 650.2C1558.7 652.3 1561.8 654.2 1565.0 655.9C1568.2 657.6 1571.7 659.5 1574.5 660.6C1577.3 661.7 1579.9 661.9 1582.1 662.5C1584.3 663.1 1585.3 663.6 1587.8 664.4C1590.3 665.2 1594.4 666.2 1597.3 667.3C1600.2 668.4 1602.5 669.6 1604.9 671.1C1607.3 672.6 1609.9 674.8 1611.6 676.2C1613.3 677.6 1614.4 679.0 1615.0 679.6" fill="none" stroke="#10ad70" stroke-width="2.3" stroke-linejoin="round" stroke-linecap="butt"/>
<rect x="935.2" y="268.2" width="230.3" height="13.8" fill="#e57373" fill-opacity="0.72" stroke="#f6b26b" stroke-opacity="0.6" stroke-width="1"/>
<path d="M1435.4 571L1604.4 663.8" stroke="#05a1ee" stroke-width="3.2" stroke-linecap="butt"/>
<path d="M800.2 33.5H1757M779.5 211.5H1757M1502.3 750.5H1757" stroke="#05a1ee" stroke-width="2" fill="none"/>
<path d="M2 721.5H1800" stroke="#3f4f5b" stroke-width="1.2"/>
</svg>

<div style="position:absolute;left:1739.6px;top:735px;font-size:14px;line-height:16px;color:#ff8c0a;white-space:nowrap">14<span style="color:#b8bec3;margin-left:1px">h</span><span style="margin-left:5.5px">03</span><span style="color:#b8bec3;margin-left:1.6px">m</span></div>
<div class="tk" style="top:55px"></div><div class="pl" style="top:48px">253.25</div><div class="tk" style="top:92px"></div><div class="pl" style="top:86px">246.52</div><div class="tk" style="top:130px"></div><div class="pl" style="top:123px">239.78</div><div class="tk" style="top:167px"></div><div class="pl" style="top:160px">233.04</div><div class="tk" style="top:204px"></div><div class="pl" style="top:198px">226.31</div><div class="tk" style="top:242px"></div><div class="pl" style="top:235px">219.57</div><div class="tk" style="top:279px"></div><div class="pl" style="top:272px">212.83</div><div class="tk" style="top:316px"></div><div class="pl" style="top:310px">206.10</div><div class="tk" style="top:353px"></div><div class="pl" style="top:347px">199.36</div><div class="tk" style="top:391px"></div><div class="pl" style="top:384px">192.63</div><div class="tk" style="top:428px"></div><div class="pl" style="top:422px">185.89</div><div class="tk" style="top:465px"></div><div class="pl" style="top:459px">179.15</div><div class="tk" style="top:503px"></div><div class="pl" style="top:496px">172.42</div><div class="tk" style="top:540px"></div><div class="pl" style="top:534px">165.68</div><div class="tk" style="top:577px"></div><div class="pl" style="top:571px">158.94</div><div class="tk" style="top:614px"></div><div class="pl" style="top:608px">152.21</div><div class="tk" style="top:652px"></div><div class="pl" style="top:646px">145.47</div><div class="tk" style="top:689px"></div><div class="pl" style="top:683px">138.73</div><div class="tk" style="top:726px"></div><div class="pl" style="top:720px">131.99</div><div class="pl" style="top:752px">125.26</div>
<div class="hb" style="top:26px">257.40</div>
<div class="hb" style="top:204px">225.30</div>
<div class="hb" style="top:743px">128.00</div>
<div style="position:absolute;left:1616px;top:174.6px;font-size:20.8px;line-height:24px;color:#1380c3;white-space:nowrap;letter-spacing:0.2px" id="cp">2017 closing price</div>
<svg width="1866" height="789" viewBox="0 0 1866 789" style="pointer-events:none"><path d="M1794 721.5L1802.5 713H1855V730H1802.5Z" fill="#3f4f5b"/></svg>
<div style="position:absolute;left:1806.5px;top:714.5px;font-size:12px;line-height:14px;font-weight:bold;color:#fff;white-space:nowrap">133.10</div>
<div class="dt" style="left:3.8px"></div><div class="dl" style="left:4.3px">15.02.2017</div><div class="dt" style="left:138.3px"></div><div class="dl" style="left:138.8px">10.04.2017</div><div class="dt" style="left:272.9px"></div><div class="dl" style="left:273.4px">07.06.2017</div><div class="dt" style="left:407.4px"></div><div class="dl" style="left:407.9px">31.07.2017</div><div class="dt" style="left:542.0px"></div><div class="dl" style="left:542.5px">21.09.2017</div><div class="dt" style="left:676.5px"></div><div class="dl" style="left:677.0px">16.11.2017</div><div class="dt" style="left:811.0px"></div><div class="dl" style="left:811.5px">12.01.2018</div><div class="dt" style="left:945.6px"></div><div class="dl" style="left:946.1px">07.03.2018</div><div class="dt" style="left:1080.1px"></div><div class="dl" style="left:1080.6px">03.05.2018</div><div class="dt" style="left:1214.7px"></div><div class="dl" style="left:1215.2px">27.06.2018</div><div class="dt" style="left:1349.2px"></div><div class="dl" style="left:1349.7px">20.08.2018</div><div class="dt" style="left:1483.7px"></div><div class="dl" style="left:1484.2px">12.10.2018</div><div class="dt" style="left:1618.3px"></div><div class="dl" style="left:1618.8px">05.12.2018</div><div class="dt" style="left:1752.8px"></div><div class="dl" style="left:1753.3px">12.01.2019</div>
<svg width="40" height="30" viewBox="0 0 40 30" style="left:0;top:735px">
<g fill="#b6b6b6"><rect x="6" y="2.1" width="9.9" height="5.8"/><rect x="6" y="9.2" width="9.9" height="1.8"/>
<rect x="6" y="16.1" width="9.9" height="5.8"/><rect x="6" y="23.2" width="9.9" height="1.8"/></g>
<g fill="#fff"><rect x="13.4" y="3.1" width="1.8" height="0.8"/><rect x="10.9" y="6.2" width="4.5" height="0.75"/><rect x="13.4" y="17.1" width="1.8" height="0.8"/><rect x="10.9" y="20.2" width="4.5" height="0.75"/></g>
<g stroke="#b6b6b6" stroke-width="2.5" stroke-linecap="butt"><path d="M20.8 4L27.1 10.3M27.1 4L20.8 10.3M20.8 18L27.1 24.3M27.1 18L20.8 24.3"/></g>
</svg>
<div class="leg" style="top:736.5px;left:30.6px">SMA</div><div class="leg" style="top:736.5px;left:56.9px">[200,</div><div class="leg" style="top:736.5px;left:83.6px">0]</div><div class="leg" style="top:736.5px;left:95.8px">187.67</div>
<div class="leg" style="top:750.5px;left:30.6px">SMA</div><div class="leg" style="top:750.5px;left:56.9px">[50,</div><div class="leg" style="top:750.5px;left:77.5px">0]</div><div class="leg" style="top:750.5px;left:89.4px">140.42</div>
</div></body></html>
